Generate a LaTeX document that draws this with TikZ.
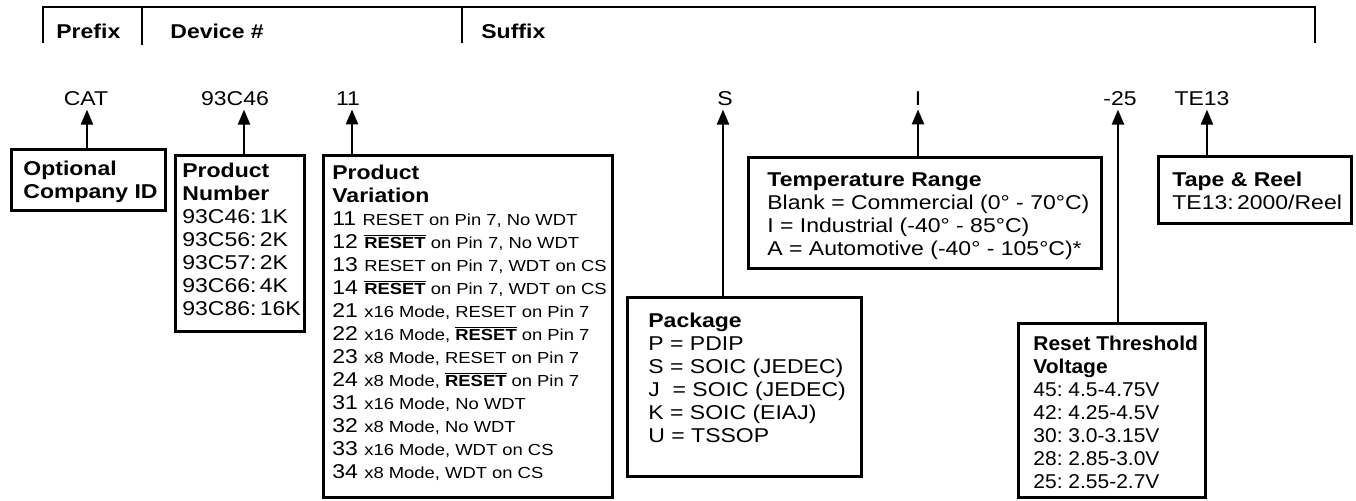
\documentclass[tikz,border=0pt]{standalone}
\usepackage{fontspec}
\setmainfont{Liberation Sans}[FakeStretch=1.15]
\newfontfamily\narrowfont{Liberation Sans}[FakeStretch=1.05]
\usepackage{tikz}
\usetikzlibrary{positioning}
\usetikzlibrary{arrows.meta}
\usetikzlibrary{fit}
\newcommand{\sm}{\fontsize{8}{11.5}\selectfont}
\newcommand{\ovl}[1]{$\overline{\hbox{\bfseries #1}}$}

\begin{document}
\begin{tikzpicture}[>={Triangle[width=6pt,length=7.5pt]},x=0.5pt,y=-0.5pt,
    font=\fontsize{10}{11.5}\selectfont,
    box/.style={draw,line width=1.5pt,inner sep=0pt,outer sep=0pt},
    txt/.style={inner sep=0pt,align=left},
    lab/.style={inner sep=2pt,anchor=base},
    hdr/.style={inner sep=0pt,anchor=base west,font=\fontsize{10}{11.5}\selectfont\bfseries},
    bracket/.style={line width=0.9pt},
    arr/.style={line width=1.2pt,->}]
      \useasboundingbox (0,0) rectangle (1356,500);
      % heading bracket
      \draw [bracket] (43,43) -- (43,7) -- (1315,7) -- (1315,43);
      \draw [bracket] (142,7) -- (142,45);
      \draw [bracket] (462,7) -- (462,43);
      \node[hdr] (hpre) at (56,38) {Prefix};
      \node[hdr] (hdev) at (170,38) {Device \#};
      \node[hdr] (hsuf) at (481,38) {Suffix};
      % part number fields
      \node[lab] (lcat) at (86,105) {CAT};
      \node[lab] (lnum) at (235,105) {93C46};
      \node[lab] (lvar) at (348,105) {11};
      \node[lab] (lpkg) at (725,105) {S};
      \node[lab] (ltmp) at (918,105) {I};
      \node[lab] (lrst) at (1120,105) {-25};
      \node[lab] (ltap) at (1202,105) {TE13};
      \foreach \n/\x in {cat/87,num/244,var/352,pkg/723,tmp/918,rst/1118,tap/1207}
        \coordinate (c\n) at (\x,0);
      % boxes
      \node[box,fit={(11,149) (165,210)}] (bcat) {};
      \node[box,fit={(175,155) (304,331)}] (bnum) {};
      \node[box,fit={(323,155) (612,497)}] (bvar) {};
      \node[box,fit={(627,297) (861,476)}] (bpkg) {};
      \node[box,fit={(748,157) (1101,268)}] (btmp) {};
      \node[box,fit={(1018,323) (1205,497)}] (brst) {};
      \node[box,fit={(1158,156) (1351,223)}] (btap) {};
      \node[txt,below right=6pt and 6pt of bcat.north west] (tcat)
        {\textbf{Optional}\\\textbf{Company ID}};
      \node[txt,below right=4pt and 3.5pt of bnum.north west] (tnum)
        {\textbf{Product}\\\textbf{Number}\\93C46:\,1K\\93C56:\,2K\\93C57:\,2K\\93C66:\,4K\\93C86:\,16K};
      \node[txt,below right=5pt and 4.5pt of bvar.north west] (tvar)
        {\textbf{Product}\\\textbf{Variation}\\
         11 {\sm RESET on Pin 7, No WDT}\\
         12 {\sm \ovl{RESET} on Pin 7, No WDT}\\
         13 {\sm RESET on Pin 7, WDT on CS}\\
         14 {\sm \ovl{RESET} on Pin 7, WDT on CS}\\
         21 {\sm x16 Mode, RESET on Pin 7}\\
         22 {\sm x16 Mode, \ovl{RESET} on Pin 7}\\
         23 {\sm x8 Mode, RESET on Pin 7}\\
         24 {\sm x8 Mode, \ovl{RESET} on Pin 7}\\
         31 {\sm x16 Mode, No WDT}\\
         32 {\sm x8 Mode, No WDT}\\
         33 {\sm x16 Mode, WDT on CS}\\
         34 {\sm x8 Mode, WDT on CS}};
      \node[txt,below right=8pt and 10.5pt of bpkg.north west] (tpkg)
        {\textbf{Package}\\P = PDIP\\S = SOIC (JEDEC)\\J\ \ = SOIC (JEDEC)\\K = SOIC (EIAJ)\\U = TSSOP};
      \node[txt,below right=7.5pt and 9.5pt of btmp.north west] (ttmp)
        {\textbf{Temperature Range}\\Blank = Commercial (0° - 70°C)\\I = Industrial (-40° - 85°C)\\A = Automotive (-40° - 105°C)*};
      \node[txt,below right=6.5pt and 7.5pt of brst.north west,font=\narrowfont\fontsize{10}{11.5}\selectfont] (trst)
        {\textbf{Reset Threshold}\\\textbf{Voltage}\\45:\ 4.5-4.75V\\42:\ 4.25-4.5V\\30:\ 3.0-3.15V\\28:\ 2.85-3.0V\\25:\ 2.55-2.7V};
      \node[txt,below right=8pt and 7pt of btap.north west] (ttap)
        {\textbf{Tape \& Reel}\\TE13:\,2000/Reel};
      % arrows up to the fields
      \foreach \n in {cat,num,var,pkg,tmp,rst,tap}
        \draw [arr] (b\n.north -| c\n) -- (c\n |- l\n.south);
    \end{tikzpicture}
\end{document}
